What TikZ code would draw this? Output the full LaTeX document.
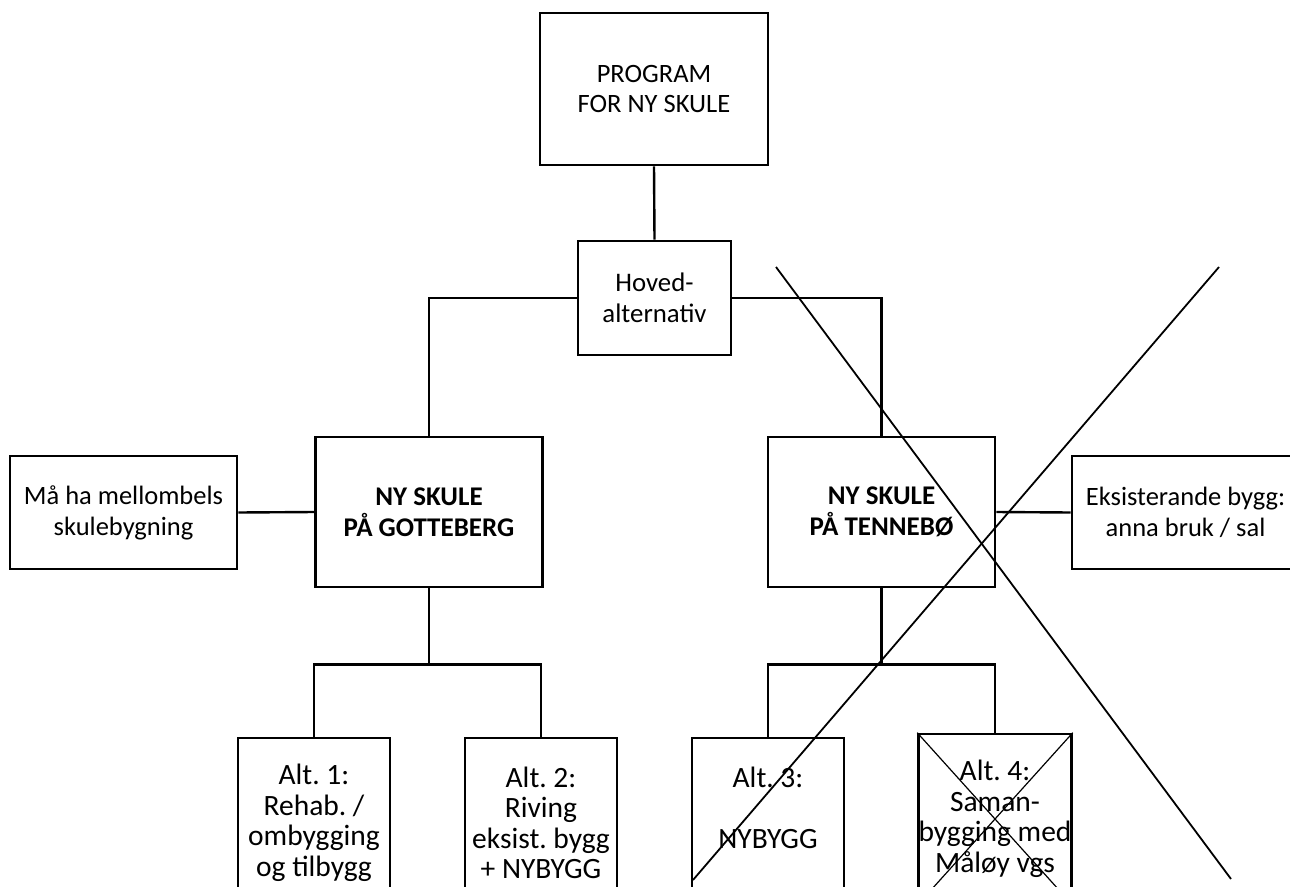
\documentclass[tikz,border=0pt]{standalone}
\usepackage{fontspec}
\setmainfont{Carlito}
\frenchspacing
\begin{document}
\begin{tikzpicture}[x=1pt, y=-1pt]
\tikzstyle{box}=[draw, line width=2.6pt, align=center, inner sep=0pt]
\tikzstyle{widebox}=[box, minimum width=227pt, minimum height=150pt]
\tikzstyle{sidebox}=[box, minimum width=227pt, minimum height=113pt, font=\fontsize{26.5}{31}\selectfont]
\tikzstyle{altbox}=[box, minimum width=152pt, minimum height=170pt, font=\fontsize{29.5}{30.5}\selectfont]
\tikzstyle{link}=[line width=2.4pt]
\tikzstyle{strike}=[line width=1.8pt]
\clip (0,0) rectangle (1290,886);

\node[box, minimum width=228pt, minimum height=152pt, font=\fontsize{26.5}{30.5}\selectfont] (prog) at (654,89) {PROGRAM\\FOR NY SKULE};
\node[box, minimum width=153pt, minimum height=114pt, font=\fontsize{26.8}{31.5}\selectfont] (hoved) at (654.5,298) {Hoved-\\alternativ};
\node[widebox, font=\fontsize{27}{31}\selectfont\bfseries] (gotte) at (429,512) {NY SKULE\\PÅ GOTTEBERG};
\node[widebox, font=\fontsize{27}{31}\selectfont\bfseries] (tenne) at (881.5,512) {NY SKULE\\PÅ TENNEBØ};
\node[sidebox] (mell) at (123.5,512.5) {Må ha mellombels\\skulebygning};
\node[sidebox] (eksis) at (1185.5,512.5) {Eksisterande bygg:\\anna bruk / sal};

\node[altbox] (alt1) at (314,823) {Alt. 1:\\Rehab. /\\ombygging\\og tilbygg};
\node[altbox] (alt2) at (541,823) {Alt. 2:\\Riving\\eksist. bygg\\+ NYBYGG};
\node[altbox] (alt3) at (768,823) {Alt. 3:\\\mbox{}\\NYBYGG\\\mbox{}};
\node[altbox] (alt4) at (995,819) {Alt. 4:\\Saman-\\bygging med\\Måløy vgs};

% tree
\draw[link] (prog.south) -- (hoved.north);
\draw[link] (hoved.west) -| (gotte.north);
\draw[link] (hoved.east) -| (tenne.north);
\draw[link] (mell.east) -- (gotte.west);
\draw[link] (tenne.east) -- (eksis.west);

\draw[link] (gotte.south) -- ++(0,76) coordinate (gj);
\draw[link] (alt1.north) |- (gj) -| (alt2.north);
\draw[link] (tenne.south) -- ++(0,76) coordinate (tj);
\draw[link] (alt3.north) |- (tj) -| (alt4.north);

% crossed out
\coordinate (xa) at (776,267);
\coordinate (xb) at (1231,879);
\coordinate (xc) at (1219,267);
\coordinate (xd) at (693,880);
\draw[strike] (xa) -- (xb);
\draw[strike] (xc) -- (xd);
\draw[strike, line width=1.2pt] (alt4.north west) -- (alt4.south east);
\draw[strike, line width=1.2pt] (alt4.north east) -- (alt4.south west);
\end{tikzpicture}
\end{document}
